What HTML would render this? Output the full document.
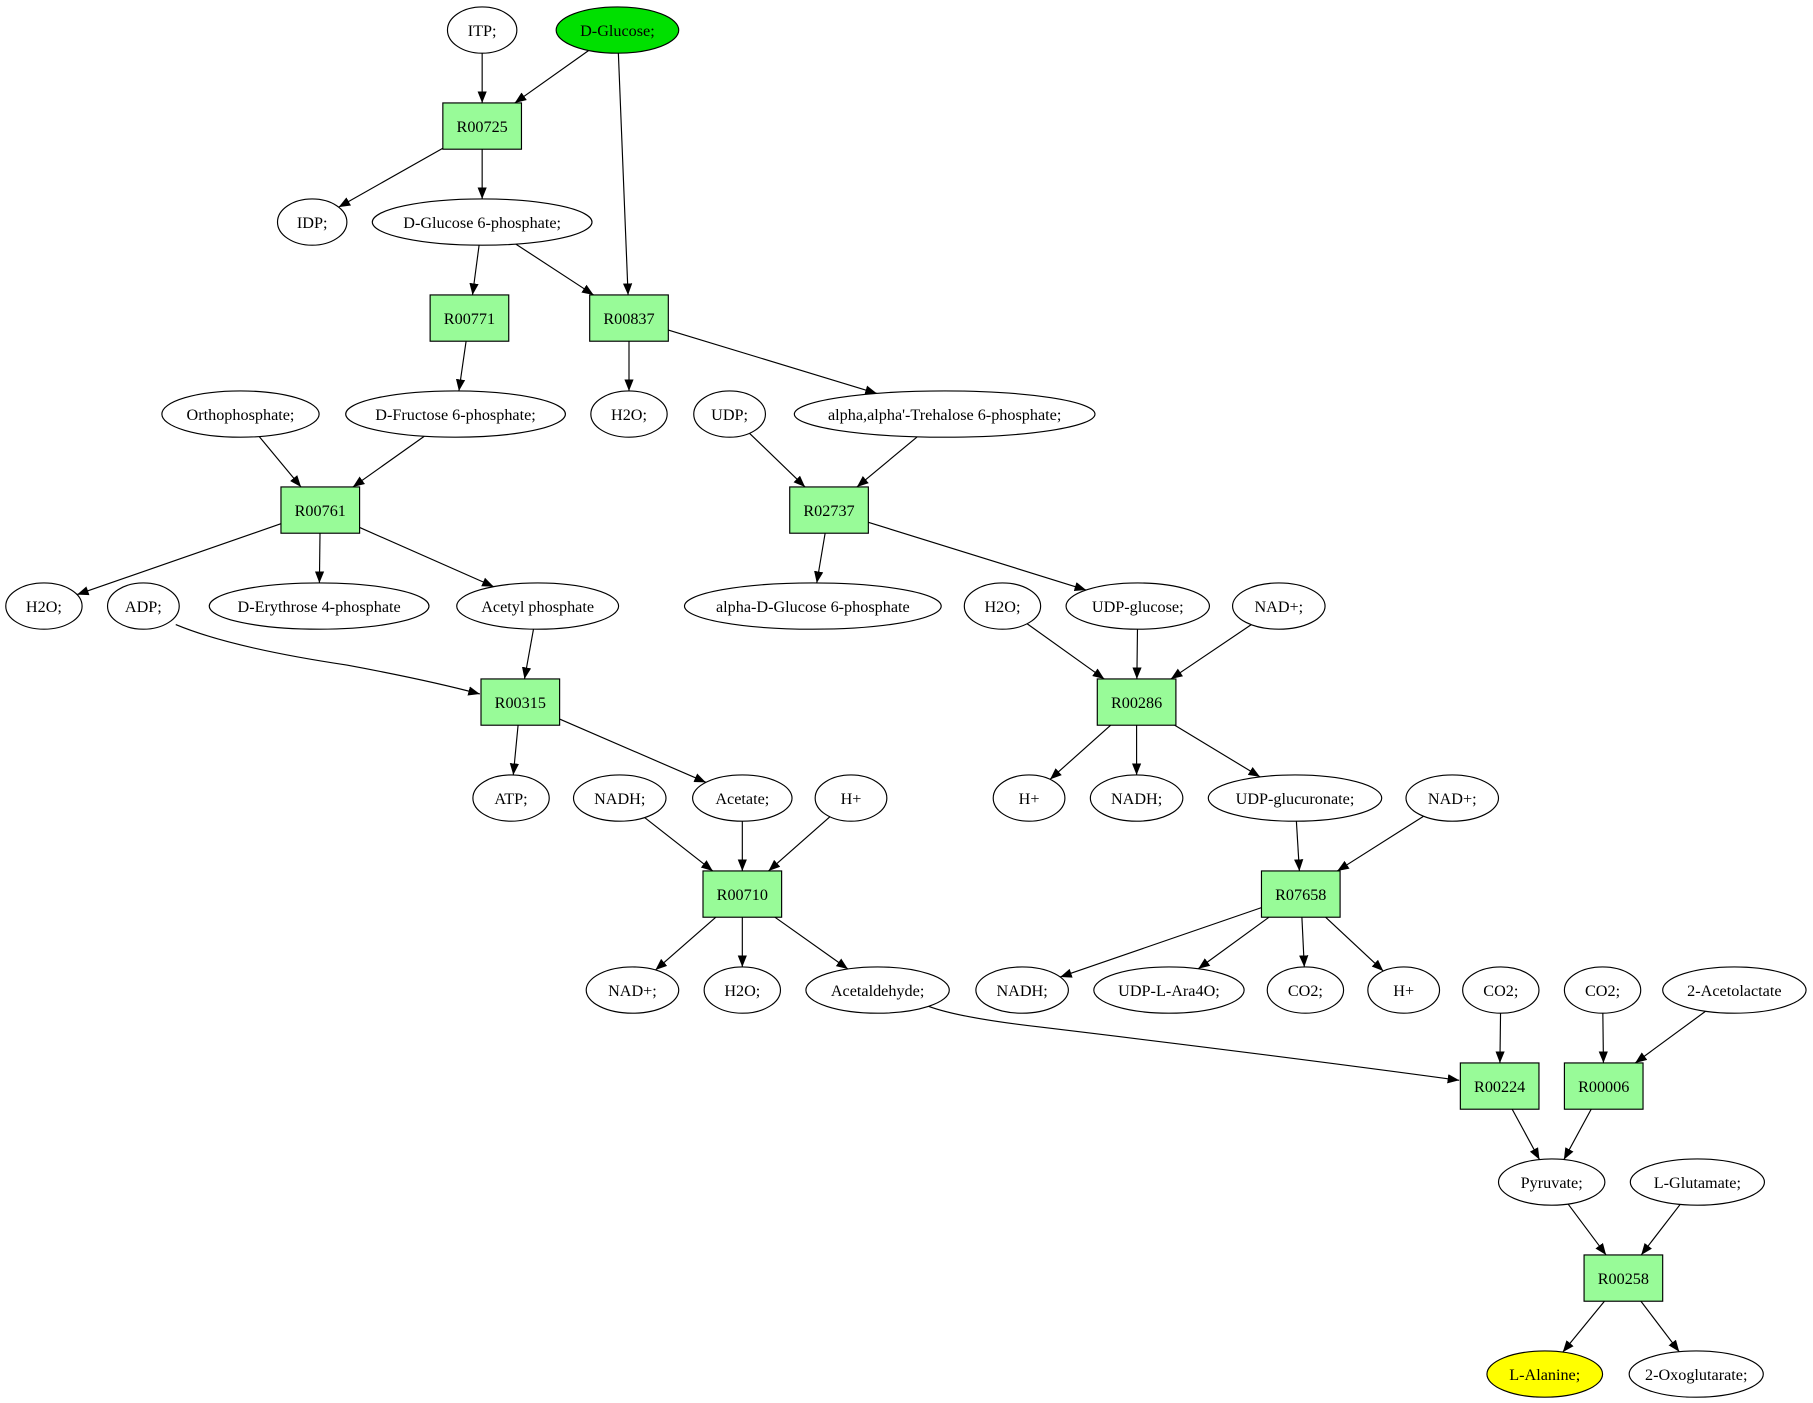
<!DOCTYPE html>
<html><head><meta charset="utf-8"><style>
html,body{margin:0;padding:0;background:#fff;}
svg{display:block;}
text{font-family:"Liberation Serif",serif;font-size:14px;fill:#000;}
</style></head><body>
<svg id="g" width="1813" height="1403" viewBox="0 0 1568 1213" preserveAspectRatio="none" xmlns="http://www.w3.org/2000/svg">
<defs><marker id="a" viewBox="0 0 10 10" refX="10" refY="5" markerWidth="10" markerHeight="10" markerUnits="userSpaceOnUse" orient="auto"><path d="M0,1 L10,5 L0,9 z" fill="#000"/></marker></defs>
<path d="M152,540 Q200,560 300,575 Q370,588 415,600" fill="none" stroke="#000" marker-end="url(#a)"/>
<path d="M803,870 Q830,880 900,888 Q1100,912 1262,934" fill="none" stroke="#000" marker-end="url(#a)"/>
</svg>
<script>
var N={
itp:['e',417,26,30,'ITP;'],glc:['e',534,26,53,'D-Glucose;','#00e000'],
idp:['e',270,192,30,'IDP;'],g6p:['e',417,192,95,'D-Glucose 6-phosphate;'],
orth:['e',208,358,68,'Orthophosphate;'],f6p:['e',394,358,95,'D-Fructose 6-phosphate;'],
h2oa:['e',544,358,33,'H2O;'],udp:['e',631,358,31,'UDP;'],tre:['e',817,358,130,"alpha,alpha'-Trehalose 6-phosphate;"],
h2ob:['e',38,524,33,'H2O;'],adp:['e',124,524,31,'ADP;'],e4p:['e',276,524,95,'D-Erythrose 4-phosphate'],
acp:['e',465,524,70,'Acetyl phosphate'],ag6p:['e',703,524,111,'alpha-D-Glucose 6-phosphate'],
h2oc:['e',867,524,33,'H2O;'],udpg:['e',984,524,62,'UDP-glucose;'],nada:['e',1106,524,40,'NAD+;'],
atp:['e',442,690,33,'ATP;'],nadha:['e',536,690,40,'NADH;'],ace:['e',642,690,43,'Acetate;'],ha:['e',736,690,31,'H+'],
hb:['e',890,690,31,'H+'],nadhb:['e',983,690,40,'NADH;'],udpga:['e',1120,690,75,'UDP-glucuronate;'],nadb:['e',1256,690,40,'NAD+;'],
nadc:['e',547,856,40,'NAD+;'],h2od:['e',642,856,33,'H2O;'],acal:['e',759,856,62,'Acetaldehyde;'],
nadhc:['e',884,856,40,'NADH;'],ara:['e',1011,856,65,'UDP-L-Ara4O;'],co2a:['e',1129,856,33,'CO2;'],hc:['e',1214,856,31,'H+'],
co2b:['e',1298,856,33,'CO2;'],co2c:['e',1386,856,33,'CO2;'],acl:['e',1500,856,62,'2-Acetolactate'],
pyr:['e',1342,1022,46,'Pyruvate;'],glu:['e',1468,1022,58,'L-Glutamate;'],
ala:['e',1336,1188,50,'L-Alanine;','#ffff00'],og:['e',1467,1188,58,'2-Oxoglutarate;'],
r725:['b',417,109,'R00725'],r771:['b',406,275,'R00771'],r837:['b',544,275,'R00837'],r761:['b',277,441,'R00761'],
r2737:['b',717,441,'R02737'],r315:['b',450,607,'R00315'],r286:['b',983,607,'R00286'],r710:['b',642,773,'R00710'],
r7658:['b',1125,773,'R07658'],r224:['b',1297,939,'R00224'],r006:['b',1387,939,'R00006'],r258:['b',1404,1105,'R00258']};
var E=[['itp','r725'],['glc','r725'],['glc','r837'],['r725','idp'],['r725','g6p'],['g6p','r771'],['g6p','r837'],['r771','f6p'],
['r837','h2oa'],['r837','tre'],['orth','r761'],['f6p','r761'],['udp','r2737'],['tre','r2737'],['r761','h2ob'],['r761','e4p'],['r761','acp'],
['acp','r315'],['r2737','ag6p'],['r2737','udpg'],['h2oc','r286'],['udpg','r286'],['nada','r286'],['r315','atp'],['r315','ace'],
['r286','hb'],['r286','nadhb'],['r286','udpga'],['nadha','r710'],['ace','r710'],['ha','r710'],['udpga','r7658'],['nadb','r7658'],
['r710','nadc'],['r710','h2od'],['r710','acal'],['r7658','nadhc'],['r7658','ara'],['r7658','co2a'],['r7658','hc'],
['co2b','r224'],['co2c','r006'],['acl','r006'],['r224','pyr'],['r006','pyr'],['pyr','r258'],['glu','r258'],['r258','ala'],['r258','og']];
var BW=34,BH=20,RY=20;
function cut(n,dx,dy){var L=Math.hypot(dx,dy),ux=dx/L,uy=dy/L,t;
 if(n[0]=='e'){t=1/Math.sqrt(ux*ux/(n[3]*n[3])+uy*uy/(RY*RY));}
 else{t=Math.min(ux?BW/Math.abs(ux):1e9,uy?BH/Math.abs(uy):1e9);}
 return [n[1]+ux*t,n[2]+uy*t];}
var s='';
E.forEach(function(e){var a=N[e[0]],b=N[e[1]],dx=b[1]-a[1],dy=b[2]-a[2];
 var p=cut(a,dx,dy),q=cut(b,-dx,-dy);
 s+='<line x1="'+p[0]+'" y1="'+p[1]+'" x2="'+q[0]+'" y2="'+q[1]+'" stroke="#000" stroke-width="1" marker-end="url(#a)"/>';});
for(var k in N){var n=N[k];
 if(n[0]=='e'){s+='<ellipse cx="'+n[1]+'" cy="'+n[2]+'" rx="'+n[3]+'" ry="'+RY+'" fill="'+(n[5]||'#fff')+'" stroke="#000"/>';
  s+='<text x="'+n[1]+'" y="'+(n[2]+5)+'" text-anchor="middle">'+n[4]+'</text>';}
 else{s+='<rect x="'+(n[1]-BW)+'" y="'+(n[2]-BH)+'" width="'+2*BW+'" height="'+2*BH+'" fill="#98fb98" stroke="#000"/>';
  s+='<text x="'+n[1]+'" y="'+(n[2]+5)+'" text-anchor="middle">'+n[3]+'</text>';}}
document.getElementById('g').insertAdjacentHTML('beforeend',s);
</script>
</body></html>
